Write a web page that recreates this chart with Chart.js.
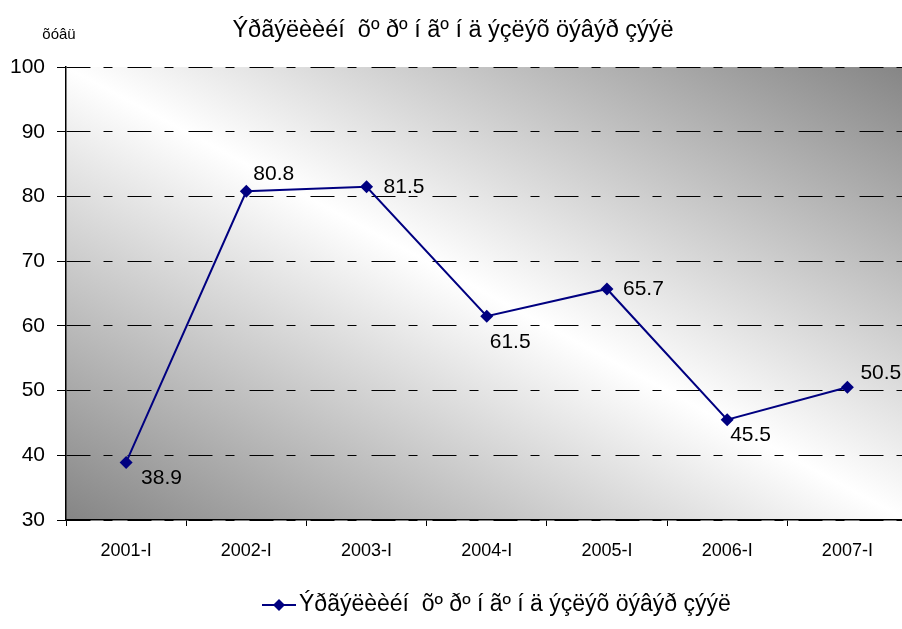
<!DOCTYPE html>
<html>
<head>
<meta charset="utf-8">
<script src="https://cdn.jsdelivr.net/npm/chart.js@4/dist/chart.umd.min.js"></script>
<style>
    html, body { margin: 0; padding: 0; background: #fff; }
    #wrap { width: 902px; height: 629px; overflow: hidden; position: relative; }
    #chart { display: block; }
</style>
</head>
<body>
<div id="wrap"><canvas id="chart" width="914" height="629" style="width:914px;height:629px"></canvas></div>
<script>
const categories = ['2001-I', '2002-I', '2003-I', '2004-I', '2005-I', '2006-I', '2007-I'];
const values = [38.9, 80.8, 81.5, 61.5, 65.7, 45.5, 50.5];
const seriesName = 'Ýðãýëèèéí  õº ðº í ãº í ä ýçëýõ öýâýð çýýë';
const chartTitle = 'Ýðãýëèèéí  õº ðº í ãº í ä ýçëýõ öýâýð çýýë';
const yAxisTitle = 'õóâü';
const yMin = 30;
const yMax = 100;
const yStep = 10;

// where each value label sits relative to its point (left edge, vertical centre)
const labelOffsets = [[15, 16], [7, -17], [17, 0], [3, 26], [16, 0], [3, 16], [13, -14]];

const FONT = '"Liberation Sans", Arial, sans-serif';
const NAVY = '#000080';

const plotBackground = {
    id: 'plotBackground',
    beforeDraw(chart) {
        const { ctx, chartArea: a } = chart;
        ctx.save();
        ctx.translate(a.left, a.bottom);
        ctx.scale(a.right - a.left, -(a.bottom - a.top));
        const g = ctx.createLinearGradient(0, 0, 1, 1);
        g.addColorStop(0, '#858585');
        g.addColorStop(0.5, '#ffffff');
        g.addColorStop(1, '#858585');
        ctx.fillStyle = g;
        ctx.fillRect(0, 0, 1, 1);
        ctx.restore();
    },
};

const textBits = {
    id: 'textBits',
    afterDraw(chart) {
        const { ctx } = chart;
        ctx.save();
        ctx.fillStyle = '#000';
        ctx.textBaseline = 'middle';

        ctx.font = '23.5px ' + FONT;
        ctx.textAlign = 'center';
        ctx.fillText(chartTitle, 453, 31);

        ctx.font = '15px ' + FONT;
        ctx.fillText(yAxisTitle, 59, 35);

        // value labels
        ctx.font = '21px ' + FONT;
        ctx.textAlign = 'left';
        const meta = chart.getDatasetMeta(0);
        meta.data.forEach((pt, i) => {
            const [dx, dy] = labelOffsets[i];
            ctx.fillText(String(values[i]), pt.x + dx, pt.y + dy);
        });

        // legend
        const ly = 605;
        ctx.strokeStyle = NAVY;
        ctx.lineWidth = 2;
        ctx.beginPath();
        ctx.moveTo(262, ly);
        ctx.lineTo(296, ly);
        ctx.stroke();
        ctx.fillStyle = NAVY;
        ctx.beginPath();
        ctx.moveTo(279, ly - 6);
        ctx.lineTo(285, ly);
        ctx.lineTo(279, ly + 6);
        ctx.lineTo(273, ly);
        ctx.closePath();
        ctx.fill();
        ctx.fillStyle = '#000';
        ctx.font = '23px ' + FONT;
        ctx.fillText(seriesName, 299, ly);
        ctx.restore();
    },
};

new Chart(document.getElementById('chart'), {
    type: 'line',
    data: {
        labels: categories,
        datasets: [
            {
                label: seriesName,
                data: values,
                borderColor: NAVY,
                borderWidth: 2,
                backgroundColor: NAVY,
                pointStyle: 'rectRot',
                pointRadius: 6.5,
                pointBorderWidth: 0,
                pointBackgroundColor: NAVY,
                tension: 0,
                clip: false,
            },
        ],
    },
    options: {
        responsive: false,
        animation: false,
        layout: {
            padding: { top: 67, bottom: 69, left: 0, right: 0 },
        },
        plugins: {
            legend: { display: false },
            title: { display: false },
            tooltip: { enabled: false },
        },
        scales: {
            x: {
                offset: true,
                afterFit: (s) => { s.height = 40; },
                grid: {
                    offset: true,
                    drawOnChartArea: false,
                    drawTicks: true,
                    tickLength: 6,
                    color: '#000',
                },
                border: { color: '#000', width: 1.5 },
                ticks: {
                    color: '#000',
                    font: { family: FONT, size: 18 },
                    padding: 14,
                    maxRotation: 0,
                },
            },
            y: {
                min: yMin,
                max: yMax,
                afterFit: (s) => { s.width = 66; },
                grid: {
                    color: '#000',
                    lineWidth: 1,
                    drawTicks: true,
                    tickLength: 9,
                    tickColor: '#000',
                },
                border: { color: '#000', width: 1.5, dash: [24, 13, 9, 15] },
                ticks: {
                    stepSize: yStep,
                    color: '#000',
                    font: { family: FONT, size: 21 },
                    padding: 12,
                },
            },
        },
    },
    plugins: [plotBackground, textBits],
});
</script>
</body>
</html>
